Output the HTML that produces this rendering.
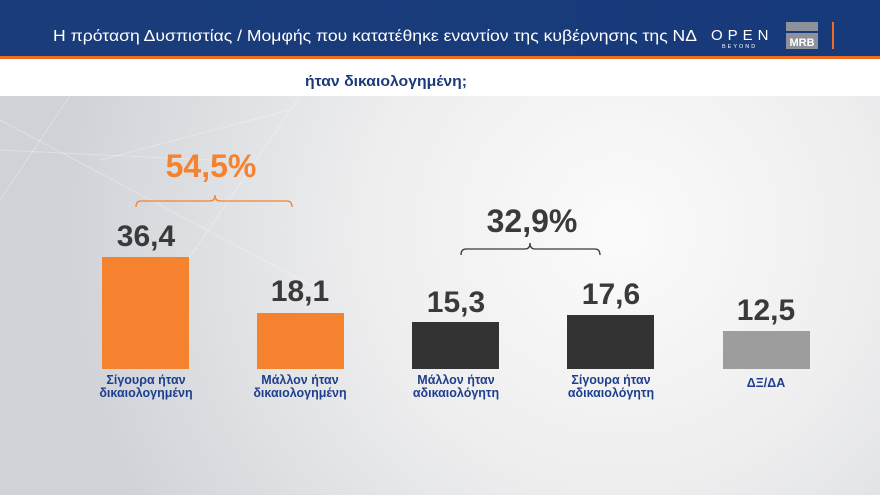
<!DOCTYPE html>
<html><head><meta charset="utf-8"><style>
html,body{margin:0;padding:0;width:880px;height:495px;overflow:hidden;background:#e8e9ea}
svg{display:block}
text{font-family:"Liberation Sans","DejaVu Sans",sans-serif}
</style></head><body>
<svg width="880" height="495" viewBox="0 0 880 495" xmlns="http://www.w3.org/2000/svg">
<defs>
<radialGradient id="bg" cx="620" cy="230" r="560" gradientUnits="userSpaceOnUse">
<stop offset="0" stop-color="#fbfbfb"/>
<stop offset="0.45" stop-color="#eeeeef"/>
<stop offset="1" stop-color="#cfd3d8"/>
</radialGradient>
<linearGradient id="hdr" x1="0" y1="0" x2="1" y2="0">
<stop offset="0" stop-color="#1a3c7b"/>
<stop offset="1" stop-color="#173a7a"/>
</linearGradient>
</defs>
<rect x="0" y="96" width="880" height="399" fill="url(#bg)"/>
<g stroke="#ffffff" stroke-opacity="0.3" stroke-width="1" fill="none">
<line x1="0" y1="150" x2="210" y2="160"/>
<line x1="70" y1="96" x2="0" y2="200"/>
<line x1="0" y1="120" x2="320" y2="290"/>
<line x1="100" y1="160" x2="290" y2="110"/>
<line x1="140" y1="330" x2="300" y2="96"/>
</g>
<rect x="0" y="0" width="880" height="56" fill="url(#hdr)"/>
<rect x="0" y="56" width="880" height="3" fill="#f26b22"/>
<rect x="0" y="59" width="880" height="37" fill="#ffffff"/>
<text x="53" y="41" font-size="16" fill="#ffffff" textLength="644" lengthAdjust="spacingAndGlyphs">Η πρόταση Δυσπιστίας / Μομφής που κατατέθηκε εναντίον της κυβέρνησης της ΝΔ</text>
<text x="711" y="40" font-size="15" fill="#ffffff" letter-spacing="5" font-weight="normal">OPEN</text>
<text x="722" y="48" font-size="5.5" fill="#ffffff" letter-spacing="2">BEYOND</text>
<rect x="786" y="22" width="32" height="9" fill="#8c919a"/>
<rect x="786" y="33" width="32" height="16" fill="#8c919a"/>
<text x="802" y="46" font-size="11" font-weight="bold" fill="#ffffff" text-anchor="middle">MRB</text>
<rect x="832" y="22" width="2" height="27" fill="#f26b22"/>
<text x="305" y="86" font-size="15" font-weight="bold" fill="#1b3a7a" textLength="162" lengthAdjust="spacingAndGlyphs">ήταν δικαιολογημένη;</text>

<text x="211" y="177" font-size="32" font-weight="bold" fill="#f5822f" text-anchor="middle">54,5%</text>
<path d="M136,207 Q136,201 141,201 L210,201 Q215,201 215,195 Q215,201 220,201 L287,201 Q292,201 292,207" fill="none" stroke="#f5822f" stroke-width="1.3"/>
<text x="532" y="232" font-size="32" font-weight="bold" fill="#3a3a3a" text-anchor="middle">32,9%</text>
<path d="M461,255 Q461,249 466,249 L525,249 Q530,249 530,243 Q530,249 535,249 L595,249 Q600,249 600,255" fill="none" stroke="#3a3a3a" stroke-width="1.3"/>

<rect x="102" y="257" width="87" height="112" fill="#f5822f"/>
<rect x="257" y="313" width="87" height="56" fill="#f5822f"/>
<rect x="412" y="322" width="87" height="47" fill="#333333"/>
<rect x="567" y="315" width="87" height="54" fill="#333333"/>
<rect x="723" y="331" width="87" height="38" fill="#9d9d9d"/>

<g font-size="30" font-weight="bold" fill="#3a3a3a" text-anchor="middle">
<text x="146" y="246">36,4</text>
<text x="300" y="301">18,1</text>
<text x="456" y="312">15,3</text>
<text x="611" y="304">17,6</text>
<text x="766" y="320">12,5</text>
</g>
<g font-size="12.5" font-weight="bold" fill="#1f3f8c" text-anchor="middle">
<text x="146" y="384">Σίγουρα ήταν</text>
<text x="146" y="397">δικαιολογημένη</text>
<text x="300" y="384">Μάλλον ήταν</text>
<text x="300" y="397">δικαιολογημένη</text>
<text x="456" y="384">Μάλλον ήταν</text>
<text x="456" y="397">αδικαιολόγητη</text>
<text x="611" y="384">Σίγουρα ήταν</text>
<text x="611" y="397">αδικαιολόγητη</text>
<text x="766" y="387">ΔΞ/ΔΑ</text>
</g>
</svg>
</body></html>
